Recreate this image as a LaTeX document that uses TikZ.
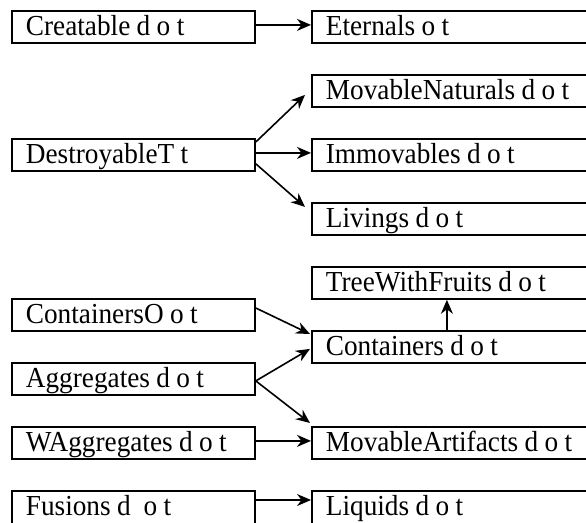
\documentclass[tikz,border=0pt]{standalone}
\usepackage{fontspec}
\setmainfont{Liberation Serif}[FakeStretch=0.94]
\usetikzlibrary{arrows.meta}
\begin{document}
\begin{tikzpicture}[x=1pt,y=-1pt,
  box/.style={draw, line width=1.8pt, anchor=north west, inner xsep=14pt, inner ysep=0pt,
    text height=25pt, text depth=7pt, align=left, font=\fontsize{29}{32}\selectfont,
    execute at begin node={\spaceskip=0.22em\relax}},
  lbox/.style={box, text width=215pt},
  rbox/.style={box, text width=262pt},
  lowbox/.style={text depth=15pt},
  arr/.style={-{Stealth[length=14pt,width=12pt,inset=4.5pt]}, line width=1.6pt}]
\useasboundingbox (0,0) rectangle (586,522);
\clip (0,0) rectangle (586,522);

% left column
\node[lbox] (creat) at (11,10) {Creatable d o t};
\node[lbox] (dest) at (11,138) {DestroyableT t};
\node[lbox] (contO) at (11,298) {ContainersO o t};
\node[lbox] (aggr) at (11,362) {Aggregates d o t};
\node[lbox] (waggr) at (11,426) {WAggregates d o t};
\node[lbox,lowbox] (fus) at (11,490) {Fusions d\ \ o t};

% right column
\node[rbox] (etern) at (311,10) {Eternals o t};
\node[rbox] (movnat) at (311,74) {MovableNaturals d o t};
\node[rbox] (immov) at (311,138) {Immovables d o t};
\node[rbox] (liv) at (311,202) {Livings d o t};
\node[rbox] (tree) at (311,266) {TreeWithFruits d o t};
\node[rbox] (cont) at (311,330) {Containers d o t};
\node[rbox] (movart) at (311,426) {MovableArtifacts d o t};
\node[rbox,lowbox] (liq) at (311,490) {Liquids d o t};

% connectors
\draw[arr] ([yshift=2pt]creat.east) -- ([yshift=2pt]etern.west);
\draw[arr] ([yshift=-4pt]dest.north east) -- ([xshift=-6pt,yshift=-4pt]movnat.west);
\draw[arr] ([yshift=2pt]dest.east) -- ([yshift=2pt]immov.west);
\draw[arr] ([yshift=8pt]dest.south east) -- ([xshift=-6pt,yshift=12pt]liv.west);
\draw[arr] ([xshift=-10pt]cont.north) -- ([xshift=-10pt]tree.south);
\draw[arr] ([yshift=-10pt]contO.north east) -- ([xshift=-1pt,yshift=-4pt]cont.north west);
\draw[arr] ([yshift=-2pt]aggr.east) -- ([xshift=-1pt,yshift=-2pt]cont.west);
\draw[arr] ([yshift=-2pt]aggr.east) -- ([xshift=-1pt,yshift=3pt]movart.north west);
\draw[arr] ([yshift=2pt]waggr.east) -- ([yshift=2pt]movart.west);
\draw[arr] ([yshift=-10pt]fus.north east) -- ([yshift=-10pt]liq.north west);
\end{tikzpicture}
\end{document}
